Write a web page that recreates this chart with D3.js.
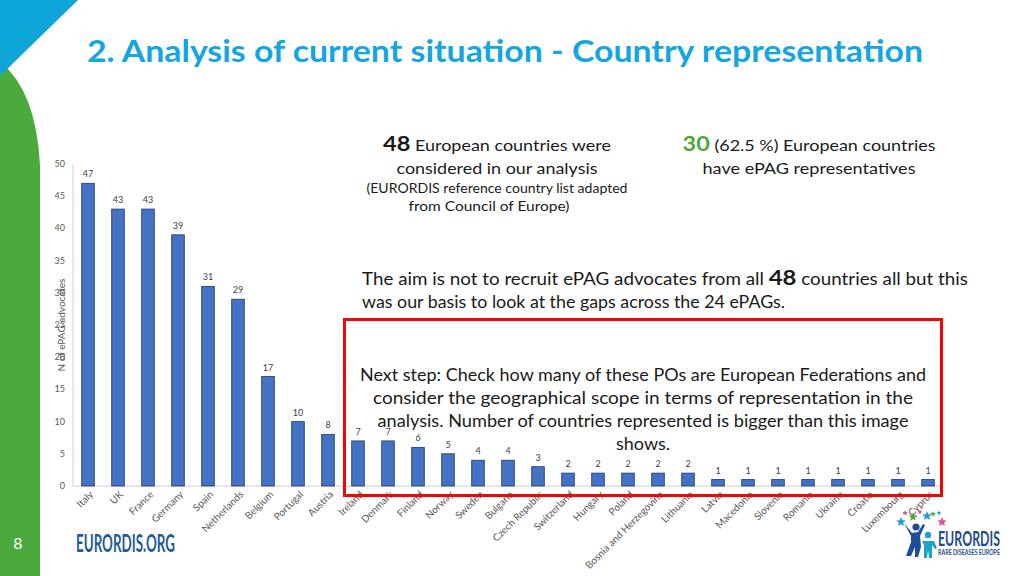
<!DOCTYPE html>
<html><head><meta charset="utf-8">
<script src="https://cdn.jsdelivr.net/npm/d3@7"></script>
<style>
html,body{margin:0;padding:0;background:#fff;}
svg{display:block;}
text{font-family:Lato,"Open Sans",sans-serif;}
</style></head>
<body><svg id="c" width="1024" height="576"></svg>
<script>
const countries = ["Italy","UK","France","Germany","Spain","Netherlands","Belgium","Portugal","Austria","Ireland","Denmark","Finland","Norway","Sweden","Bulgaria","Czech Republic","Switzerland","Hungary","Poland","Bosnia and Herzegovina","Lithuania","Latvia","Macedonia","Slovenia","Romania","Ukraine","Croatia","Luxembourg","Cyprus"];
const advocates = [47,43,43,39,31,29,17,10,8,7,7,6,5,4,4,3,2,2,2,2,2,1,1,1,1,1,1,1,1];
const yTicks = [0,5,10,15,20,25,30,35,40,45,50];
const titleText = "2. Analysis of current situation - Country representation";
const yLabel = "N of ePAG advocates";

const svg = d3.select("#c");

// decorations
svg.append("path").attr("d","M0,62 Q36,90 40,165 L40,576 L0,576 Z").attr("fill","#4CAA3C");
svg.append("path").attr("d","M0,0 L78,0 L0,76 Z").attr("fill","#0EA5D9");
svg.append("text").attr("x",18).attr("y",549).attr("text-anchor","middle").attr("fill","#fff").attr("font-size",16).text("8");

// title
svg.append("text").attr("x",87).attr("y",62).attr("fill","#14A6E1").attr("font-size",31).attr("font-weight","bold")
  .attr("textLength",836).attr("lengthAdjust","spacingAndGlyphs").text(titleText);

// scales
const x = d3.scaleBand().domain(countries).range([73,943]).paddingInner(0.58).paddingOuter(0.29);
const y = d3.scaleLinear().domain([0,50]).range([486,164]);

// axes lines
svg.append("line").attr("x1",73).attr("x2",73).attr("y1",164).attr("y2",486).attr("stroke","#d0d0d0");
svg.append("line").attr("x1",73).attr("x2",943).attr("y1",486).attr("y2",486).attr("stroke","#d0d0d0");

// y tick labels
svg.append("g").selectAll("text").data(yTicks).join("text")
  .attr("x",65).attr("y",d=>y(d)+3).attr("text-anchor","end").attr("font-size",9).attr("fill","#595959").text(d=>d);

// y label
svg.append("text").attr("transform","translate(65,325) rotate(-90)").attr("text-anchor","middle")
  .attr("font-size",10).attr("fill","#595959").text(yLabel);

// bars
svg.append("g").selectAll("rect").data(advocates).join("rect")
  .attr("x",(d,i)=>x(countries[i])).attr("width",x.bandwidth())
  .attr("y",d=>y(d)).attr("height",d=>y(0)-y(d))
  .attr("fill","#4472C4").attr("stroke","#1F3864").attr("stroke-width",0.8);

// value labels
svg.append("g").selectAll("text").data(advocates).join("text")
  .attr("x",(d,i)=>x(countries[i])+x.bandwidth()/2).attr("y",d=>y(d)-6)
  .attr("text-anchor","middle").attr("font-size",9).attr("fill","#404040").text(d=>d);

// country labels
svg.append("g").selectAll("text").data(countries).join("text")
  .attr("transform",d=>`translate(${x(d)+x.bandwidth()/2+6},${495}) rotate(-45)`)
  .attr("text-anchor","end").attr("font-size",10).attr("fill","#595959").text(d=>d);

// annotation blocks
function line(xc, yb, size, len, parts, anchor){
  const t = svg.append("text").attr("x",xc).attr("y",yb).attr("font-size",size).attr("fill","#1a1a1a")
    .attr("text-anchor",anchor||"middle");
  if(len) t.attr("textLength",len).attr("lengthAdjust","spacingAndGlyphs");
  parts.forEach(p=>{
    const s = t.append("tspan").text(p.t);
    if(p.b) s.attr("font-weight","bold");
    if(p.s) s.attr("font-size",p.s);
    if(p.c) s.attr("fill",p.c);
  });
}
line(497,151,16,228,[{t:"48",b:1,s:21},{t:" European countries were"}]);
line(497,174,16,201,[{t:"considered in our analysis"}]);
line(497,193,13,261,[{t:"(EURORDIS reference country list adapted"}]);
line(489,211,13,161,[{t:"from Council of Europe)"}]);
line(809,151,16,253,[{t:"30",b:1,s:21,c:"#4CAA3C"},{t:" (62.5 %) European countries"}]);
line(809,174,16,213,[{t:"have ePAG representatives"}]);
line(362,285,16.5,606,[{t:"The aim is not to recruit ePAG advocates from all "},{t:"48",b:1,s:21},{t:" countries all but this"}],"start");
line(362,308,16.5,423,[{t:"was our basis to look at the gaps across the 24 ePAGs."}],"start");

// red box
svg.append("rect").attr("x",344.5).attr("y",319.5).attr("width",597).attr("height",176).attr("fill","none").attr("stroke","#FF0000").attr("stroke-width",3);
line(643,381,17,566,[{t:"Next step: Check how many of these POs are European Federations and"}]);
line(643,404,17,540,[{t:"consider the geographical scope in terms of representation in the"}]);
line(643,427,17,531,[{t:"analysis. Number of countries represented is bigger than this image"}]);
line(643,450,17,54,[{t:"shows."}]);

// EURORDIS.ORG
svg.append("text").attr("x",76).attr("y",552).attr("font-family","'Liberation Sans Narrow','DejaVu Sans Condensed',sans-serif")
  .attr("font-weight","bold").attr("font-size",25).attr("fill","#1F5C99").attr("textLength",99).attr("lengthAdjust","spacingAndGlyphs").text("EURORDIS.ORG");

// logo
function star(cx,cy,r,col){
  const pts=[];for(let i=0;i<10;i++){const a=-Math.PI/2+i*Math.PI/5;const rr=i%2?r*0.45:r;pts.push([cx+rr*Math.cos(a),cy+rr*Math.sin(a)]);}
  svg.append("polygon").attr("points",pts.map(p=>p.join(",")).join(" ")).attr("fill",col);
}
star(901,522,5,"#1BA3D0");star(905,513,3,"#D9558F");star(913,517,4.5,"#4CAA3C");star(927,516,5,"#1BA3D0");
star(933,514,3,"#4CAA3C");star(939,513,2.5,"#1BA3D0");star(942,522,5,"#D9558F");star(920,512,2.5,"#D9558F");
// big figure
svg.append("circle").attr("cx",916).attr("cy",527).attr("r",3.6).attr("fill","#1F4E99");
svg.append("path").attr("d","M904,523 L912,533 L918,532 L923,524 L925,525 L920,536 L921,547 L918,557 L915,557 L915,547 L911,556 L906,556 L911,542 L911,536 Z").attr("fill","#1F4E99");
svg.append("circle").attr("cx",928).attr("cy",535).attr("r",3.2).attr("fill","#1BA3C6");
svg.append("path").attr("d","M922,541 L934,541 L937,548 L935,549 L932,545 L932,558 L929,558 L928,550 L927,558 L924,558 L924,545 Z").attr("fill","#1BA3C6");
svg.append("text").attr("x",938).attr("y",546).attr("font-family","'Liberation Sans Narrow',sans-serif").attr("font-weight","bold")
  .attr("font-size",20).attr("fill","#1F4E8C").attr("textLength",62).attr("lengthAdjust","spacingAndGlyphs").text("EURORDIS");
svg.append("text").attr("x",938).attr("y",555).attr("font-family","'Liberation Sans Narrow',sans-serif").attr("font-weight","bold")
  .attr("font-size",7).attr("fill","#1F4E8C").attr("textLength",62).attr("lengthAdjust","spacingAndGlyphs").text("RARE DISEASES EUROPE");
</script></body></html>
